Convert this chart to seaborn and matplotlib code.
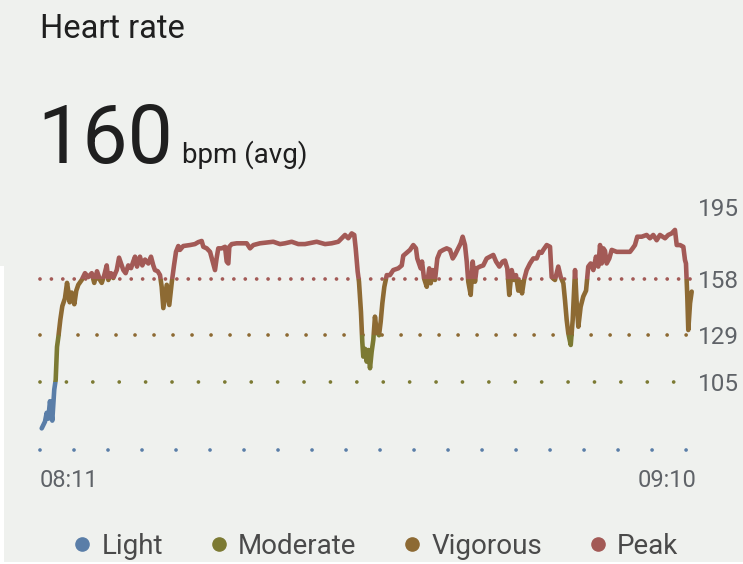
import numpy as np
import pandas as pd
import matplotlib
matplotlib.use("Agg")
import matplotlib.pyplot as plt
from matplotlib.patches import Rectangle
from matplotlib.lines import Line2D
from matplotlib.transforms import ScaledTranslation
import seaborn as sns

# ---------------- data ----------------
minutes = [0.00, 0.30, 0.45, 0.60, 0.75, 0.96, 1.14, 1.27, 1.39, 1.51, 1.69, 1.87, 2.11, 2.30, 2.41, 2.54,
           2.72, 2.96, 3.14, 3.32, 3.63, 3.93, 4.23, 4.54, 4.77, 5.02, 5.29, 5.45, 5.68, 5.90, 6.05, 6.29,
           6.50, 6.81, 7.02, 7.20, 7.41, 7.62, 7.86, 8.11, 8.31, 8.47, 8.65, 8.92, 9.13, 9.38, 9.68, 9.92,
           10.13, 10.28, 10.53, 10.74, 10.89, 11.04, 11.35, 11.58, 11.80, 12.01, 12.19, 12.40, 12.55, 12.85,
           13.46, 13.91, 14.21, 14.52, 14.67, 14.98, 15.28, 15.52, 15.73, 15.88, 16.03, 16.34, 16.64, 16.79,
           16.94, 17.03, 17.25, 17.70, 18.61, 18.91, 19.21, 19.81, 21.02, 21.63, 22.08, 22.69, 23.29, 23.90,
           24.96, 25.72, 26.32, 26.92, 27.23, 27.53, 27.83, 28.14, 28.37, 28.50, 28.68, 28.80, 28.98, 29.10,
           29.19, 29.35, 29.50, 29.65, 29.80, 29.95, 30.10, 30.25, 30.41, 30.62, 30.77, 30.92, 31.10, 31.32,
           31.61, 31.91, 32.37, 32.68, 32.82, 33.13, 33.43, 33.73, 33.97, 34.09, 34.40, 34.52, 34.70, 34.95,
           35.18, 35.31, 35.49, 35.70, 35.91, 36.15, 36.45, 36.76, 37.06, 37.31, 37.51, 37.81, 38.03, 38.21,
           38.42, 38.58, 38.72, 38.94, 39.12, 39.33, 39.48, 39.78, 40.08, 40.39, 40.69, 40.99, 41.24, 41.54,
           41.84, 42.05, 42.26, 42.44, 42.66, 42.87, 43.05, 43.26, 43.41, 43.60, 43.78, 44.02, 44.32, 44.62,
           44.93, 45.17, 45.38, 45.53, 45.84, 46.14, 46.29, 46.59, 46.89, 47.11, 47.35, 47.50, 47.65, 47.80,
           48.02, 48.20, 48.41, 48.56, 48.71, 48.92, 49.16, 49.41, 49.61, 49.83, 50.07, 50.31, 50.52, 50.68,
           50.83, 50.98, 51.13, 51.28, 51.52, 51.74, 52.19, 52.79, 53.40, 53.64, 53.85, 54.06, 54.46, 54.91,
           55.21, 55.51, 55.82, 56.12, 56.58, 56.87, 57.18, 57.48, 57.64, 57.94, 58.24, 58.39, 58.48, 58.60,
           58.69, 58.85, 59.00]
bpm = [81, 84.5, 89, 86, 95, 85, 101, 106, 123, 128, 137, 144, 148, 156, 152, 146,
       151, 145, 152, 155, 157.5, 161, 159, 161, 156, 162, 157.5, 156, 160, 165, 157.5, 161,
       158.5, 162.6, 169, 166, 162.6, 161, 165, 163.6, 167, 169.5, 164.4, 169.5, 165, 168, 166, 169.5,
       165, 162.6, 162, 160, 154, 143, 155, 144.6, 156, 165, 172, 175, 173, 175,
       175.5, 176, 177, 177.6, 174.6, 173.8, 172, 167, 162.6, 168.8, 173.8, 173.8, 174.6, 167,
       166, 174.6, 176, 176.4, 176.4, 173.8, 175.5, 176.4, 177.2, 176, 176.4, 177.2, 176, 176,
       177.2, 176, 176.4, 177.2, 179, 180.7, 179, 181.5, 180.7, 173.8, 161.8, 156.6, 141, 125.6,
       118, 122, 115.4, 121.4, 112, 120.5, 126.6, 138.6, 130.8, 129, 136, 145.5, 154, 160,
       160, 162.6, 163.5, 165, 170, 171.5, 173, 175.5, 173.8, 168.6, 163.5, 167, 158.4, 154,
       163.5, 155.8, 162.6, 157.5, 168.6, 172, 173, 173.8, 173, 168.6, 170.4, 173.8, 176.4, 179.8,
       175.5, 167, 156.6, 149.8, 167, 156.6, 163.5, 164.4, 165, 168.6, 169.5, 170.4, 167, 164.4,
       167, 167.5, 163.5, 149.8, 162.6, 157.5, 160, 152, 156.6, 150.6, 157.5, 162.6, 166, 168.6,
       168.6, 172, 171.5, 173, 175.5, 174.6, 159, 157.5, 164.4, 159, 155.8, 147, 137, 130,
       124, 137, 162.6, 145.5, 133.4, 143.7, 149, 152, 164.4, 166, 162.6, 169.5, 164.4, 175.5,
       166, 173.8, 172.5, 166, 168.6, 173, 172, 172, 172, 173.8, 175.5, 179.8, 179.8, 180.7,
       179, 180.7, 178, 180.7, 179, 180.7, 181.5, 183.3, 175.5, 175.5, 174.6, 167.8, 166, 149,
       131.7, 145.5, 151.5]

zone_names = ["Light", "Moderate", "Vigorous", "Peak"]
zone_lower = [70, 105, 129, 158]
zone_upper = [105, 129, 158, 230]
ytick_values = [105, 129, 158, 195]
xtick_minutes = [0, 59]
xtick_labels = ["08:11", "09:10"]
avg_bpm = 160
title = "Heart rate"
unit_text = "bpm (avg)"

# ---------------- style ----------------
zone_colors = ["#5a7ea8", "#7c7a33", "#8d6a33", "#a35a56"]
dot_spacing_px = [34.0, 26.4, 19.0, 11.4]
bg = "#eff1ee"
text_dark = "#1f1f1f"
text_gray = "#5f6368"

sns.set_theme(style="white")
plt.rcParams["font.family"] = ["Roboto", "DejaVu Sans"]

W, H = 743, 564
fig = plt.figure(figsize=(W / 100, H / 100), dpi=100, facecolor=bg)

# axes placement in pixels
ax_l, ax_r, ax_t, ax_b = 38, 694, 200, 455
ax = fig.add_axes([ax_l / W, 1 - ax_b / H, (ax_r - ax_l) / W, (ax_b - ax_t) / H])
ax.set_facecolor(bg)
px_per_min = 650 / 59.0
ax.set_xlim(-(41.7 - ax_l) / px_per_min, 59 + (ax_r - 691.7) / px_per_min)
px_per_bpm = 1.94
ax.set_ylim(158 - (ax_b - 279) / px_per_bpm, 158 + (279 - ax_t) / px_per_bpm)

df = pd.DataFrame({"minute": minutes, "bpm": bpm})

# dotted zone boundary lines
dot_lw = 2.7
lw_px = dot_lw * 100 / 72
for lo, col, sp in zip(zone_lower, zone_colors, dot_spacing_px):
    ax.hlines(lo, -0.15, 59.1, colors=col, linewidth=dot_lw,
              linestyles=[(0, (0.001, sp / lw_px))], capstyle="round",
              zorder=1, clip_on=False)

# zone-coloured heart-rate line
xmin, xmax = ax.get_xlim()
for lo, hi, col in zip([0] + zone_lower[1:], zone_upper, zone_colors):
    n_before = len(ax.lines)
    sns.lineplot(data=df, x="minute", y="bpm", ax=ax, color=col, linewidth=3.3,
                 sort=False, estimator=None, zorder=3)
    line = ax.lines[n_before]
    line.set_solid_joinstyle("round")
    line.set_solid_capstyle("round")
    clip = Rectangle((xmin - 5, lo), (xmax - xmin) + 10, hi - lo, transform=ax.transData)
    line.set_clip_path(clip)

for s in ax.spines.values():
    s.set_visible(False)
ax.set_xlabel("")
ax.set_ylabel("")
ax.yaxis.tick_right()
ax.set_yticks(ytick_values)
ax.set_yticklabels([str(v) for v in ytick_values])
ax.tick_params(axis="y", length=0, pad=3, labelsize=17.5, labelcolor=text_gray)
ax.set_xticks(xtick_minutes)
ax.set_xticklabels(xtick_labels)
ax.tick_params(axis="x", length=0, pad=10, labelsize=17, labelcolor=text_gray)
xl = ax.get_xticklabels()
xl[0].set_ha("left")
xl[1].set_ha("right")
xl[0].set_transform(xl[0].get_transform() + ScaledTranslation(-2 / 100, 0, fig.dpi_scale_trans))
xl[1].set_transform(xl[1].get_transform() + ScaledTranslation(5 / 100, 0, fig.dpi_scale_trans))
ax.grid(False)

# header texts
fig.text(40 / W, 1 - 38 / H, title, fontsize=23.5, color=text_dark, va="baseline", ha="left")
fig.text(37 / W, 1 - 163 / H, str(avg_bpm), fontsize=58, color=text_dark, va="baseline", ha="left")
fig.text(182 / W, 1 - 163 / H, unit_text, fontsize=20, color=text_dark, va="baseline", ha="left")

# legend
handles = [Line2D([], [], marker="o", linestyle="none", markersize=9.5,
                  markerfacecolor=c, markeredgecolor=c) for c in zone_colors]
leg = fig.legend(handles, zone_names, loc="center", bbox_to_anchor=(0.507, 1 - 546 / H),
                 ncol=4, frameon=False, fontsize=20, handlelength=0.5, handletextpad=0.45,
                 columnspacing=1.75, borderaxespad=0, borderpad=0)
for t in leg.get_texts():
    t.set_color("#4a4a4a")

# white screenshot strips
fig.patches.append(Rectangle((0, 0), 4 / W, (H - 266) / H, transform=fig.transFigure,
                             facecolor="white", edgecolor="none", zorder=10))
fig.patches.append(Rectangle((0, 0), 1, 2 / H, transform=fig.transFigure,
                             facecolor="white", edgecolor="none", zorder=10))

fig.savefig("out.png", dpi=100, facecolor=bg)
